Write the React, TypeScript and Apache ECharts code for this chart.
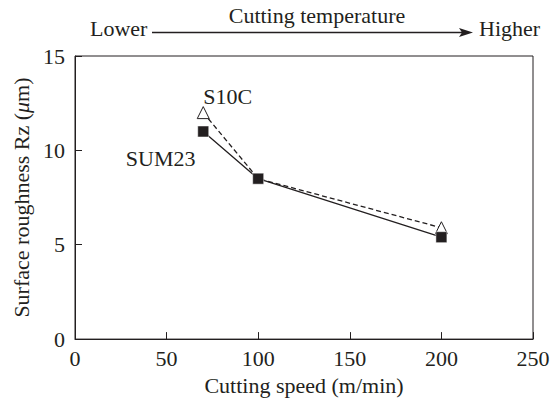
import React, { useEffect, useRef } from "react";
import * as echarts from "echarts";

const xTicks = [0, 50, 100, 150, 200, 250];
const yTicks = [0, 5, 10, 15];
const speeds = [70, 100, 200];
const sum23 = [11.0, 8.5, 5.4];
const s10c = [12.0, 8.5, 5.9];
const seriesNames = ["SUM23", "S10C"];

const FONT = "Liberation Serif";
const FS = 22;
const INK = "#231f20";

export default function App() {
  const ref = useRef<HTMLDivElement>(null);
  useEffect(() => {
    if (!ref.current) return;
    const chart = echarts.init(ref.current, null, { renderer: "svg" });
    const sumData = speeds.map((x, i) => {
      const d: any = { value: [x, sum23[i]] };
      if (i === 0) {
        d.label = {
          show: true,
          formatter: seriesNames[0],
          position: "left",
          offset: [3, 27],
          fontFamily: FONT,
          fontSize: FS,
          color: INK,
        };
      }
      return d;
    });
    const s10Data = speeds.map((x, i) => {
      const d: any = { value: [x, s10c[i]] };
      if (i === 1) d.symbolSize = 9;
      if (i === 0) {
        d.label = {
          show: true,
          formatter: seriesNames[1],
          position: "top",
          align: "left",
          offset: [0, 6],
          fontFamily: FONT,
          fontSize: FS,
          color: INK,
        };
      }
      return d;
    });
    chart.setOption({
      animation: false,
      grid: {
        left: 75,
        right: 26,
        top: 56,
        bottom: 57,
        show: true,
        borderColor: INK,
        borderWidth: 1,
      },
      xAxis: {
        type: "value",
        min: xTicks[0],
        max: xTicks[xTicks.length - 1],
        interval: 50,
        name: "Cutting speed (m/min)",
        nameLocation: "middle",
        nameGap: 32,
        nameTextStyle: { fontFamily: FONT, fontSize: FS, color: INK },
        axisLine: { show: true, lineStyle: { color: INK, width: 1 } },
        axisTick: { show: true, inside: true, length: 7, lineStyle: { color: INK } },
        axisLabel: { fontFamily: FONT, fontSize: FS, color: INK, margin: 8 },
        splitLine: { show: false },
      },
      yAxis: {
        type: "value",
        min: yTicks[0],
        max: yTicks[yTicks.length - 1],
        interval: 5,
        name: "{a|Surface roughness Rz (}{i|μ}{a|m)}",
        nameLocation: "middle",
        nameGap: 42,
        nameRotate: 90,
        nameTextStyle: {
          fontFamily: FONT,
          fontSize: FS,
          color: INK,
          rich: {
            a: { fontFamily: FONT, fontSize: FS, color: INK },
            i: { fontFamily: FONT, fontSize: FS, color: INK, fontStyle: "italic" },
          },
        },
        axisLine: { show: true, lineStyle: { color: INK, width: 1 } },
        axisTick: { show: true, inside: true, length: 7, lineStyle: { color: INK } },
        axisLabel: { fontFamily: FONT, fontSize: FS, color: INK, margin: 10 },
        splitLine: { show: false },
      },
      series: [
        {
          name: seriesNames[1],
          type: "line",
          data: s10Data,
          symbol: "triangle",
          symbolSize: 12,
          itemStyle: { color: "#fff", borderColor: INK, borderWidth: 1 },
          lineStyle: { color: INK, width: 1.3, type: [5, 3] },
          z: 2,
        },
        {
          name: seriesNames[0],
          type: "line",
          data: sumData,
          symbol: "rect",
          symbolSize: 11,
          itemStyle: { color: INK, borderColor: "#fff", borderWidth: 0.5 },
          lineStyle: { color: INK, width: 1.3 },
          z: 3,
        },
      ],
      graphic: [
        {
          type: "text",
          x: 90,
          y: 28,
          style: { text: "Lower", fontFamily: FONT, fontSize: FS, fill: INK, verticalAlign: "middle" },
        },
        {
          type: "text",
          x: 479,
          y: 28,
          style: { text: "Higher", fontFamily: FONT, fontSize: FS, fill: INK, verticalAlign: "middle" },
        },
        {
          type: "text",
          x: 317,
          y: 15.5,
          style: {
            text: "Cutting temperature",
            fontFamily: FONT,
            fontSize: FS,
            fill: INK,
            align: "center",
            verticalAlign: "middle",
          },
        },
        {
          type: "line",
          shape: { x1: 152, y1: 32.5, x2: 463, y2: 32.5 },
          style: { stroke: INK, lineWidth: 1.3 },
        },
        {
          type: "polygon",
          shape: { points: [[459, 28], [473, 32.5], [459, 37], [462, 32.5]] },
          style: { fill: INK },
        },
      ],
    });
    return () => chart.dispose();
  }, []);
  return (
    <div
      ref={ref}
      style={{ position: "fixed", left: 0, top: 0, width: 559, height: 401, background: "#fff" }}
    />
  );
}
